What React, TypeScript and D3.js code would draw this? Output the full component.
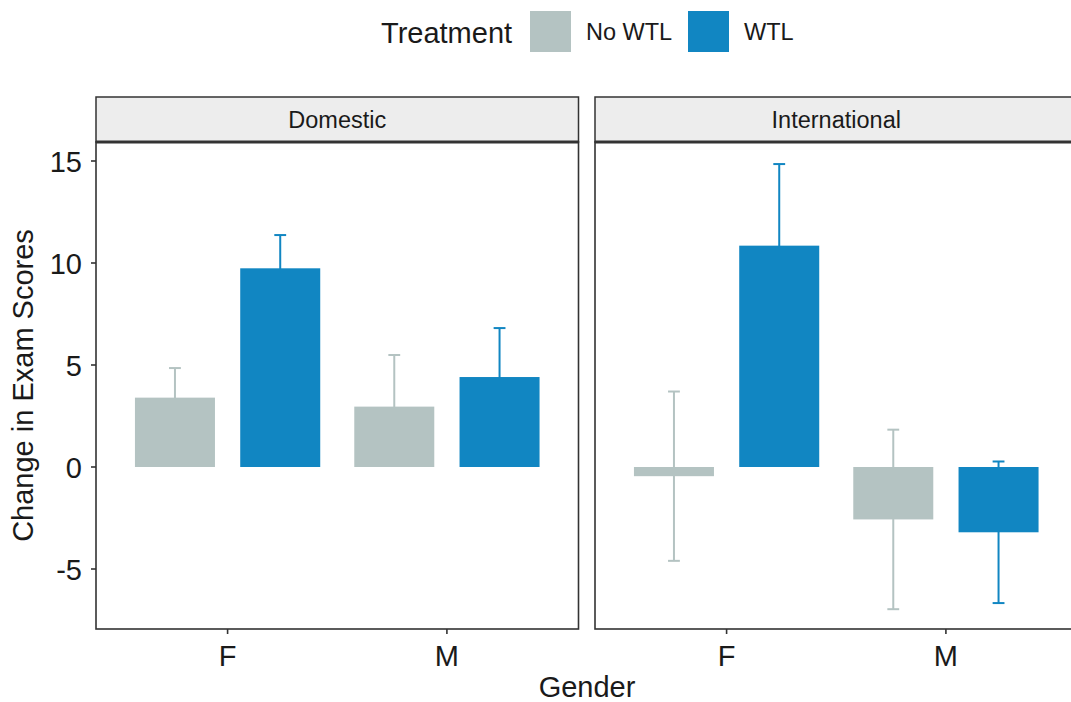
import * as d3 from 'd3'

// facets, categories and series
const facets = ['Domestic', 'International']
const genders = ['F', 'M']
const treatments = ['No WTL', 'WTL']
const treatmentColors = ['#b4c3c2', '#1186c2']

// mean change, order F, M
const domesticNoWTL = [3.4, 2.96]
const domesticWTL = [9.74, 4.41]
const internationalNoWTL = [-0.45, -2.57]
const internationalWTL = [10.85, -3.2]

// standard errors, order F, M
const domesticNoWTLse = [1.45, 2.53]
const domesticWTLse = [1.63, 2.4]
const internationalNoWTLse = [4.15, 4.4]
const internationalWTLse = [4.0, 3.47]

const yTicks = [-5, 0, 5, 10, 15]

const W = 1071
const H = 702
const font = '"Liberation Sans", Arial, Helvetica, sans-serif'

const panelTop = 142
const panelBottom = 629
const stripTop = 97
const panelW = 482.5
const panelLefts = [96, 595]

export default function App() {
  const y = d3.scaleLinear().domain([-5, 15]).range([569, 161])

  const series = [
    { facet: 0, values: [domesticNoWTL, domesticWTL], se: [domesticNoWTLse, domesticWTLse] },
    { facet: 1, values: [internationalNoWTL, internationalWTL], se: [internationalNoWTLse, internationalWTLse] },
  ]

  // dodge offset in x units
  const dodge = d3.scaleBand<string>().domain(treatments).range([-0.48, 0.48])
    .paddingInner(0.24).paddingOuter(0.12)
  const capHalf = 0.027

  return (
    <div style={{ position: 'absolute', left: 0, top: 0, width: W, height: H, overflow: 'hidden', background: '#fff' }}>
      <svg width={W} height={H} style={{ display: 'block', fontFamily: font }}>
        <rect width={W} height={H} fill="#fff" />

        {/* legend */}
        <text x={381} y={43} fontSize={29} fill="#1a1a1a">Treatment</text>
        {treatments.map((t, i) => {
          const kx = [530, 688][i]
          return (
            <g key={t}>
              <rect x={kx} y={11} width={41} height={41} fill={treatmentColors[i]} />
              <text x={kx + 56} y={40} fontSize={23.5} fill="#1a1a1a">{t}</text>
            </g>
          )
        })}

        {series.map(s => {
          const left = panelLefts[s.facet]
          const x = d3.scaleLinear().domain([0.4, 2.6]).range([left, left + panelW])
          return (
            <g key={facets[s.facet]}>
              {/* strip */}
              <rect x={left} y={stripTop} width={panelW} height={panelTop - stripTop}
                fill="#ededed" stroke="#333" strokeWidth={1.5} />
              <text x={left + panelW / 2} y={128} fontSize={23.5} textAnchor="middle" fill="#1a1a1a">
                {facets[s.facet]}
              </text>

              {/* error bars (drawn under bars) */}
              {genders.map((g, gi) =>
                treatments.map((t, ti) => {
                  const cx = gi + 1 + (dodge(t)! + dodge.bandwidth() / 2)
                  const m = s.values[ti][gi]
                  const e = s.se[ti][gi]
                  const col = treatmentColors[ti]
                  return (
                    <g key={g + t} stroke={col} strokeWidth={2}>
                      <line x1={x(cx)} x2={x(cx)} y1={y(m + e)} y2={y(m - e)} />
                      <line x1={x(cx - capHalf)} x2={x(cx + capHalf)} y1={y(m + e)} y2={y(m + e)} />
                      <line x1={x(cx - capHalf)} x2={x(cx + capHalf)} y1={y(m - e)} y2={y(m - e)} />
                    </g>
                  )
                })
              )}

              {/* bars */}
              {genders.map((g, gi) =>
                treatments.map((t, ti) => {
                  const x0 = gi + 1 + dodge(t)!
                  const m = s.values[ti][gi]
                  return (
                    <rect key={'b' + g + t} x={x(x0)} width={x(x0 + dodge.bandwidth()) - x(x0)}
                      y={Math.min(y(m), y(0))} height={Math.abs(y(m) - y(0))}
                      fill={treatmentColors[ti]} />
                  )
                })
              )}

              {/* panel border */}
              <rect x={left} y={panelTop} width={panelW} height={panelBottom - panelTop}
                fill="none" stroke="#333" strokeWidth={1.6} />
              <line x1={left} x2={left + panelW} y1={panelTop} y2={panelTop} stroke="#333" strokeWidth={3} />

              {/* x axis */}
              {genders.map((g, gi) => (
                <g key={'x' + g}>
                  <line x1={x(gi + 1)} x2={x(gi + 1)} y1={panelBottom} y2={panelBottom + 5} stroke="#333" strokeWidth={1.6} />
                  <text x={x(gi + 1)} y={666} fontSize={29} textAnchor="middle" fill="#1a1a1a">{g}</text>
                </g>
              ))}
            </g>
          )
        })}

        {/* y axis (left facet only) */}
        {yTicks.map(t => (
          <g key={t}>
            <line x1={91} x2={96} y1={y(t)} y2={y(t)} stroke="#333" strokeWidth={1.6} />
            <text x={82} y={y(t) + 10.5} fontSize={29} textAnchor="end" fill="#1a1a1a">{t}</text>
          </g>
        ))}

        <text x={587} y={697} fontSize={29} textAnchor="middle" fill="#1a1a1a">Gender</text>
        <text transform={`translate(33,${(panelTop + panelBottom) / 2}) rotate(-90)`} fontSize={29}
          textAnchor="middle" fill="#1a1a1a">Change in Exam Scores</text>
      </svg>
    </div>
  )
}
